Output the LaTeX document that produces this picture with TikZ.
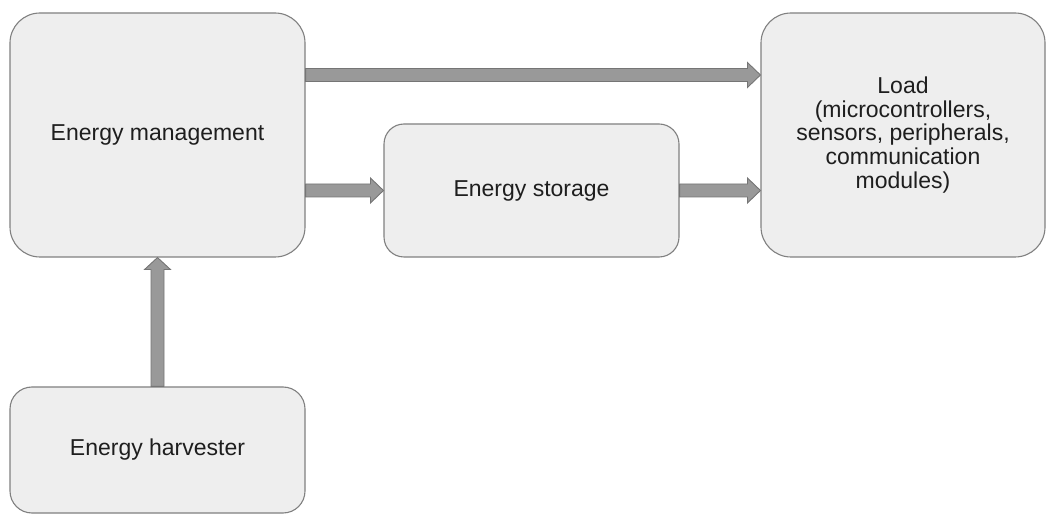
\documentclass[tikz,border=0pt]{standalone}
\usepackage{fontspec}
\setmainfont{Liberation Sans}
\usetikzlibrary{calc}
\definecolor{boxfill}{HTML}{EEEEEE}
\definecolor{boxline}{HTML}{808080}
\definecolor{arrfill}{HTML}{999999}
\definecolor{arrline}{HTML}{757575}
\definecolor{txt}{HTML}{1E1E1E}
\tikzset{
  blk/.style={draw=boxline, fill=boxfill, line width=1.1pt, inner sep=0pt,
    align=center, text=txt, font=\fontsize{23}{23.7}\selectfont},
  fat/.style={draw=arrline, fill=arrfill, line width=0.9pt, line join=miter},
}
% horizontal fat arrow from #1 to #2 (same y)
\newcommand{\harrow}[2]{%
  \draw[fat] let \p1=(#1), \p2=(#2) in
    (\x1,\y1-6.5pt) -- (\x2-13pt,\y1-6.5pt) -- (\x2-13pt,\y1-12.5pt) -- (\x2,\y1)
    -- (\x2-13pt,\y1+12.5pt) -- (\x2-13pt,\y1+6.5pt) -- (\x1,\y1+6.5pt) -- cycle;}
% vertical (upward) fat arrow from #1 to #2 (same x)
\newcommand{\varrow}[2]{%
  \draw[fat] let \p1=(#1), \p2=(#2) in
    (\x1-6.5pt,\y1) -- (\x1-6.5pt,\y2-12pt) -- (\x1-13pt,\y2-12pt) -- (\x1,\y2)
    -- (\x1+13pt,\y2-12pt) -- (\x1+6.5pt,\y2-12pt) -- (\x1+6.5pt,\y1) -- cycle;}
\begin{document}
\begin{tikzpicture}[x=1pt,y=1pt]
\useasboundingbox (0,0) rectangle (1046,514);
\clip (0,0) rectangle (1046,514);
\node[blk, minimum width=295pt, minimum height=244pt, rounded corners=30pt] (em) at (157.5,379) {Energy management};
\node[blk, minimum width=295pt, minimum height=133pt, rounded corners=20pt] (es) at (531.5,323.5) {Energy storage};
\node[blk, minimum width=284pt, minimum height=244pt, rounded corners=30pt] (load) at (903,379) {Load\\(microcontrollers,\\sensors, peripherals,\\communication\\modules)};
\node[blk, minimum width=295pt, minimum height=126pt, rounded corners=22pt] (eh) at (157.5,64) {Energy harvester};
\coordinate (t1) at ($(em.east)+(0,60)$);
\coordinate (t2) at (load.west |- t1);
\coordinate (m1) at (em.east |- es.west);
\coordinate (r2) at (load.west |- es.east);
\harrow{t1}{t2}
\harrow{m1}{es.west}
\harrow{es.east}{r2}
\varrow{eh.north}{em.south}
\end{tikzpicture}
\end{document}
